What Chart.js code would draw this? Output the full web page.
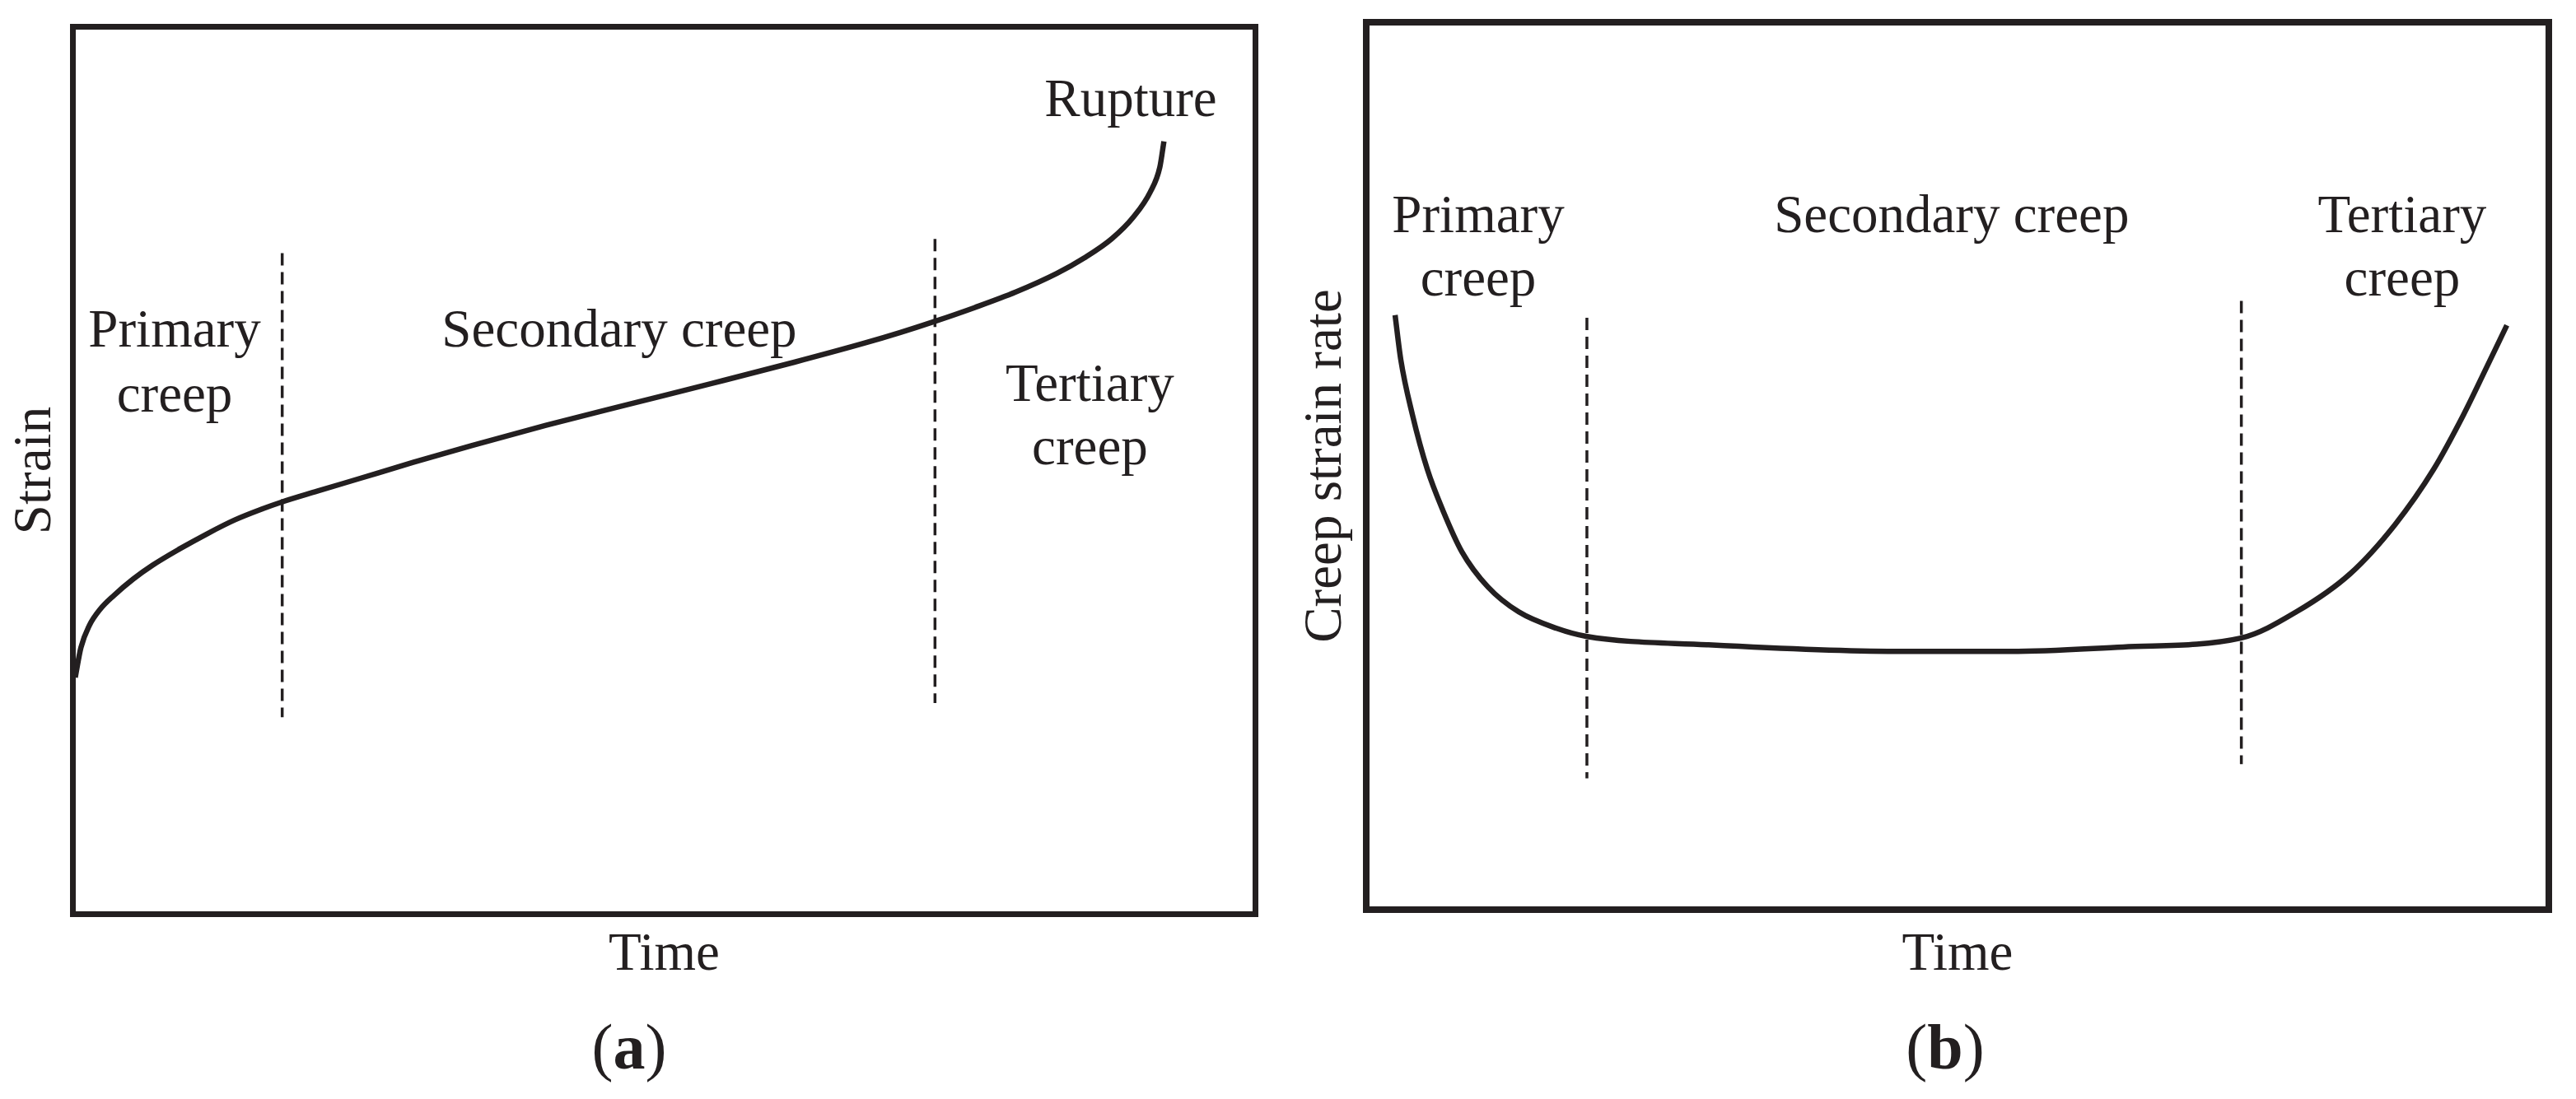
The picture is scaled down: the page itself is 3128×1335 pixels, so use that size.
<!DOCTYPE html>
<html>
<head>
<meta charset="utf-8">
<script src="https://cdn.jsdelivr.net/npm/chart.js@4.4.0/dist/chart.umd.min.js"></script>
<style>
  body { margin: 0; background: #fff; }
  #wrap { position: relative; width: 3128px; height: 1335px; background: #fff; }
  canvas { position: absolute; top: 0; }
  #strainChart { left: 0; }
  #rateChart { left: 1560px; }
</style>
</head>
<body>
<div id="wrap">
  <canvas id="strainChart" width="1528" height="1335"></canvas>
  <canvas id="rateChart" width="1568" height="1335"></canvas>
</div>
<script>
const INK = "#231f20";
const FONT = "'Liberation Serif', 'Times New Roman', serif";

//(a) strain against time, both axes in % of the plot box
const strainTime = [0.2, 0.68, 1.38, 2.31, 3.47, 5.1, 6.72, 9.04, 11.37, 13.68, 16.0, 17.63, 20.65, 24.13, 28.77, 33.7, 40, 47, 54, 61, 66.96, 69.97, 72.88, 76.24, 79.72, 83.2, 85.53, 87.85, 89.7, 91.1, 91.91, 92.26];
const strainValue = [26.67, 30.04, 32.51, 34.37, 35.92, 37.77, 39.31, 41.17, 42.88, 44.42, 45.66, 46.43, 47.66, 49.05, 50.91, 52.8, 55.08, 57.45, 59.8, 62.2, 64.36, 65.55, 66.8, 68.35, 70.1, 72.2, 73.95, 76.11, 78.59, 81.37, 84.16, 87.09];
//stage boundaries (dashed lines)
const strainStageTime = [17.7, 72.9];
const strainStageTop = [74.5, 76.1];
const strainStageBottom = [22.2, 23.8];
const strainLabels = ["Primary", "creep", "Secondary creep", "Tertiary", "creep", "Rupture"];
const strainLabelTime = [8.6, 8.6, 46.2, 86.0, 86.0, 89.45];
const strainLabelValue = [64.0, 56.6, 64.0, 57.8, 50.7, 89.9];

//(b) creep strain rate against time
const rateTime = [2.44, 2.92, 3.9, 5.17, 6.48, 8.08, 10.3, 12.9, 16.1, 18.6, 28.8, 44.8, 54.5, 64.0, 73.95, 78.7, 83.2, 87.0, 90.25, 92.8, 94.7, 96.45];
const rateValue = [67.0, 62.0, 55.8, 49.6, 45.0, 40.35, 36.35, 33.55, 31.7, 30.8, 29.85, 29.1, 29.1, 29.6, 30.6, 33.6, 37.85, 43.4, 49.6, 55.8, 61.0, 65.85];
const rateStageTime = [18.66, 74.0];
const rateStageTop = [66.7, 68.6];
const rateStageBottom = [14.8, 16.4];
const rateLabels = ["Primary", "creep", "Secondary creep", "Tertiary", "creep"];
const rateLabelTime = [9.47, 9.47, 49.5, 87.6, 87.6];
const rateLabelValue = [76.35, 69.2, 76.35, 76.35, 69.2];

//box round the plot area
const framePlugin = {
  id: "frame",
  afterDraw(chart, args, opts) {
    const { ctx, chartArea: a } = chart;
    ctx.save();
    ctx.strokeStyle = INK;
    ctx.lineWidth = opts.width;
    ctx.strokeRect(a.left, a.top, a.right - a.left, a.bottom - a.top);
    ctx.restore();
  },
};

//stage names placed in data units
const labelPlugin = {
  id: "stageLabels",
  afterDatasetsDraw(chart, args, opts) {
    const { ctx, scales: { x, y } } = chart;
    ctx.save();
    ctx.font = `${opts.size}px ${FONT}`;
    ctx.fillStyle = INK;
    ctx.textAlign = "center";
    ctx.textBaseline = "alphabetic";
    opts.texts.forEach((t, i) => {
      ctx.fillText(t, x.getPixelForValue(opts.xs[i]), y.getPixelForValue(opts.ys[i]));
    });
    ctx.restore();
  },
};

//"(a)" / "(b)" with bold letter
const captionPlugin = {
  id: "caption",
  afterDraw(chart, args, opts) {
    const ctx = chart.ctx;
    const normal = `${opts.size}px ${FONT}`;
    const bold = `bold ${opts.size}px ${FONT}`;
    ctx.save();
    ctx.fillStyle = INK;
    ctx.textBaseline = "alphabetic";
    ctx.textAlign = "left";
    ctx.font = normal;
    const wp = ctx.measureText("(").width;
    const wq = ctx.measureText(")").width;
    ctx.font = bold;
    const wl = ctx.measureText(opts.letter).width;
    let x = opts.x - (wp + wl + wq) / 2;
    ctx.font = normal;
    ctx.fillText("(", x, opts.y);
    x += wp;
    ctx.font = bold;
    ctx.fillText(opts.letter, x, opts.y);
    x += wl;
    ctx.font = normal;
    ctx.fillText(")", x, opts.y);
    ctx.restore();
  },
};

function stageLine(t, top, bottom) {
  return {
    data: [{ x: t, y: top }, { x: t, y: bottom }],
    borderColor: INK,
    borderWidth: 3.5,
    borderDash: [15, 8],
    pointRadius: 0,
  };
}

function makeChart(id, cfg) {
  const titleFont = { family: FONT, size: 65, lineHeight: 1 };
  return new Chart(document.getElementById(id), {
    type: "line",
    data: {
      datasets: [
        {
          data: cfg.time.map((t, i) => ({ x: t, y: cfg.value[i] })),
          borderColor: INK,
          borderWidth: 6.5,
          pointRadius: 0,
          cubicInterpolationMode: "monotone",
        },
        ...cfg.stageTime.map((t, i) => stageLine(t, cfg.stageTop[i], cfg.stageBottom[i])),
      ],
    },
    options: {
      responsive: false,
      animation: false,
      layout: { padding: cfg.padding },
      plugins: {
        legend: { display: false },
        tooltip: { enabled: false },
        frame: { width: cfg.frameWidth },
        stageLabels: { texts: cfg.labels, xs: cfg.labelTime, ys: cfg.labelValue, size: 65 },
        caption: { letter: cfg.letter, x: cfg.captionX, y: 1298, size: 78 },
      },
      scales: {
        x: {
          type: "linear",
          min: 0,
          max: 100,
          grid: { display: false },
          border: { display: false },
          ticks: { display: false },
          title: { display: true, text: "Time", color: INK, font: titleFont, padding: 0 },
          afterFit: (s) => { s.height = cfg.xHeight; },
        },
        y: {
          min: 0,
          max: 100,
          grid: { display: false },
          border: { display: false },
          ticks: { display: false },
          title: { display: true, text: cfg.yTitle, color: INK, font: titleFont, padding: 0 },
          afterFit: (s) => { s.width = cfg.yWidth; },
        },
      },
    },
    plugins: [framePlugin, labelPlugin, captionPlugin],
  });
}

makeChart("strainChart", {
  time: strainTime,
  value: strainValue,
  stageTime: strainStageTime,
  stageTop: strainStageTop,
  stageBottom: strainStageBottom,
  labels: strainLabels,
  labelTime: strainLabelTime,
  labelValue: strainLabelValue,
  yTitle: "Strain",
  letter: "a",
  captionX: 764,
  frameWidth: 7,
  padding: { left: 11.5, top: 32.5, right: 3.5, bottom: 141.5 },
  yWidth: 77,
  xHeight: 83,
});

makeChart("rateChart", {
  time: rateTime,
  value: rateValue,
  stageTime: rateStageTime,
  stageTop: rateStageTop,
  stageBottom: rateStageBottom,
  labels: rateLabels,
  labelTime: rateLabelTime,
  labelValue: rateLabelValue,
  yTitle: "Creep strain rate",
  letter: "b",
  captionX: 802,
  frameWidth: 8,
  padding: { left: 18.5, top: 27, right: 33, bottom: 141.5 },
  yWidth: 80.5,
  xHeight: 88.5,
});
</script>
</body>
</html>
